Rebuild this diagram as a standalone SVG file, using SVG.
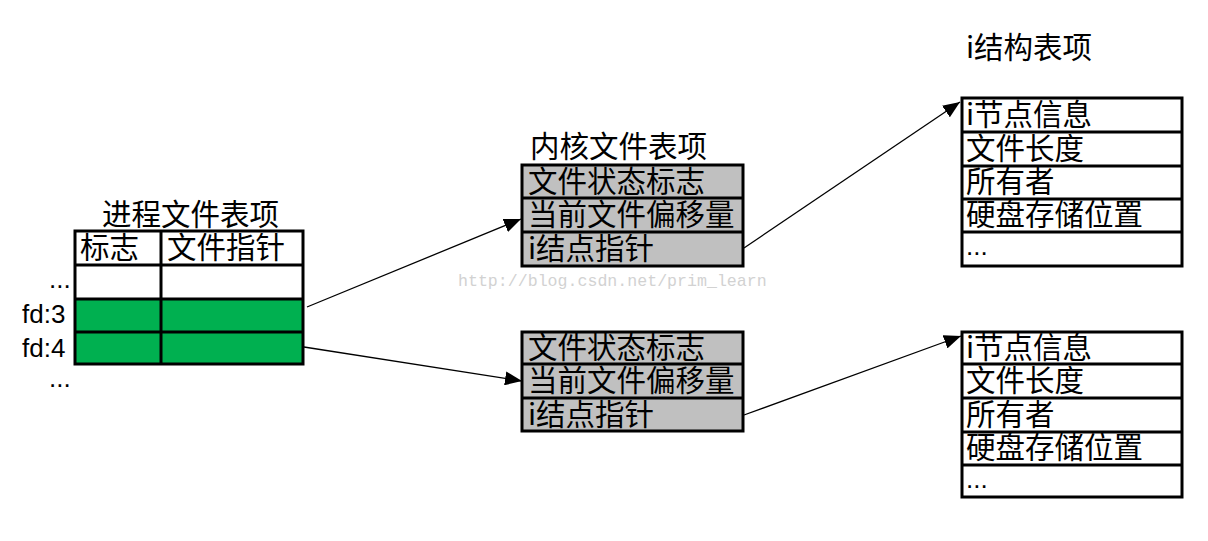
<svg xmlns="http://www.w3.org/2000/svg" width="1208" height="541" viewBox="0 0 1208 541">
<style>
.t{font-family:"Noto Sans CJK SC","Liberation Sans",sans-serif;font-size:29.5px;fill:#000}
.l{font-family:"Liberation Sans",sans-serif;font-size:26px;fill:#000}
.b{stroke:#000;stroke-width:3;fill:none}
.g{fill:#C0C0C0}
.gr{fill:#00B050}
.c{stroke:#000;stroke-width:1.3;fill:none}
.wm{font-family:"Liberation Mono",monospace;font-size:16.6px;fill:#d2d2d2}
</style>
<defs>
<marker id="ah" markerUnits="userSpaceOnUse" markerWidth="18" markerHeight="14" refX="17" refY="7" orient="auto">
<path d="M0,0 L17,7 L0,14 Z" fill="#000"/>
</marker>
</defs>
<rect width="1208" height="541" fill="#fff"/>

<text class="wm" x="458" y="286">http://blog.csdn.net/prim_learn</text>

<g id="process-table">
<text class="t" x="102" y="225">进程文件表项</text>
<rect class="gr" x="75" y="299" width="228" height="65"/>
<rect class="b" x="75" y="231" width="228" height="133"/>
<line class="b" x1="75" y1="265" x2="303" y2="265"/>
<line class="b" x1="75" y1="299" x2="303" y2="299"/>
<line class="b" x1="75" y1="332" x2="303" y2="332"/>
<line class="b" x1="161" y1="231" x2="161" y2="364"/>
<text class="t" x="80" y="258">标志</text>
<text class="t" x="167" y="258">文件指针</text>
<text class="l" x="49" y="288">...</text>
<text class="l" x="22" y="323">fd:3</text>
<text class="l" x="22" y="357">fd:4</text>
<text class="l" x="49" y="387">...</text>
</g>

<g id="kernel-table-1">
<text class="t" x="530" y="157">内核文件表项</text>
<rect class="g" x="522" y="165" width="221" height="101"/>
<rect class="b" x="522" y="165" width="221" height="101"/>
<line class="b" x1="522" y1="198" x2="743" y2="198"/>
<line class="b" x1="522" y1="232" x2="743" y2="232"/>
<text class="t" x="528" y="192">文件状态标志</text>
<text class="t" x="528" y="225">当前文件偏移量</text>
<text class="t" x="528" y="259">i结点指针</text>
</g>

<g id="kernel-table-2">
<rect class="g" x="522" y="332" width="221" height="99"/>
<rect class="b" x="522" y="332" width="221" height="99"/>
<line class="b" x1="522" y1="364" x2="743" y2="364"/>
<line class="b" x1="522" y1="398" x2="743" y2="398"/>
<text class="t" x="528" y="358">文件状态标志</text>
<text class="t" x="528" y="391">当前文件偏移量</text>
<text class="t" x="528" y="425">i结点指针</text>
</g>

<g id="inode-table-1">
<text class="t" x="966" y="58">i结构表项</text>
<rect class="b" x="962" y="98" width="220" height="168"/>
<line class="b" x1="962" y1="132" x2="1182" y2="132"/>
<line class="b" x1="962" y1="166" x2="1182" y2="166"/>
<line class="b" x1="962" y1="199" x2="1182" y2="199"/>
<line class="b" x1="962" y1="232" x2="1182" y2="232"/>
<text class="t" x="966" y="125">i节点信息</text>
<text class="t" x="966" y="159">文件长度</text>
<text class="t" x="966" y="192">所有者</text>
<text class="t" x="966" y="225">硬盘存储位置</text>
<text class="l" x="966" y="255">...</text>
</g>

<g id="inode-table-2">
<rect class="b" x="962" y="332" width="220" height="165"/>
<line class="b" x1="962" y1="364" x2="1182" y2="364"/>
<line class="b" x1="962" y1="398" x2="1182" y2="398"/>
<line class="b" x1="962" y1="432" x2="1182" y2="432"/>
<line class="b" x1="962" y1="465" x2="1182" y2="465"/>
<text class="t" x="966" y="358">i节点信息</text>
<text class="t" x="966" y="391">文件长度</text>
<text class="t" x="966" y="425">所有者</text>
<text class="t" x="966" y="458">硬盘存储位置</text>
<text class="l" x="966" y="488">...</text>
</g>

<g id="connectors">
<line class="c" x1="307" y1="307" x2="521" y2="219" marker-end="url(#ah)"/>
<line class="c" x1="304" y1="347" x2="522" y2="381" marker-end="url(#ah)"/>
<line class="c" x1="744" y1="248" x2="960" y2="102" marker-end="url(#ah)"/>
<line class="c" x1="744" y1="415" x2="961" y2="336" marker-end="url(#ah)"/>
</g>
</svg>
